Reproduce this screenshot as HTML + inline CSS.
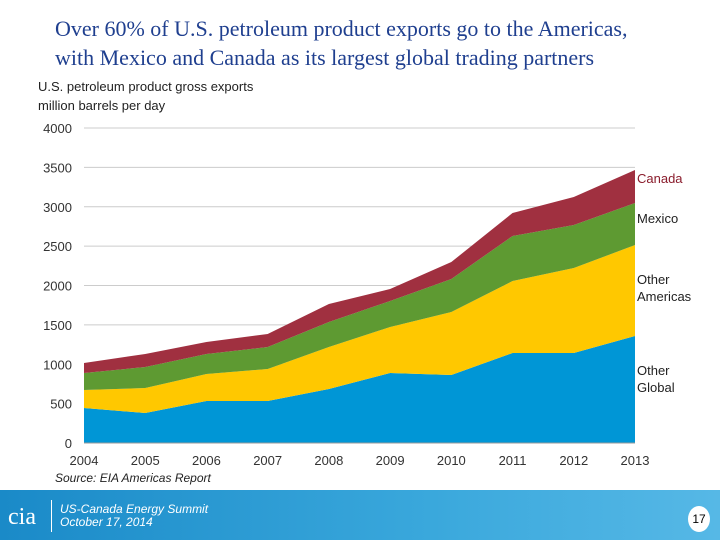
<!DOCTYPE html>
<html><head><meta charset="utf-8">
<style>
body{margin:0;width:720px;height:540px;overflow:hidden;background:#fff;font-family:"Liberation Sans",sans-serif;position:relative}
.title{position:absolute;left:55px;top:14px;font-family:"Liberation Serif",serif;font-size:22px;color:#1f3f8f;line-height:29px}
.sub{position:absolute;left:38px;top:77px;font-size:13px;color:#222;line-height:19px}
.footer{position:absolute;left:0;top:490px;width:720px;height:50px;background:linear-gradient(90deg,#1a8ac8,#3aa8dc 60%,#56b8e6)}
.ft{position:absolute;left:60px;top:13px;color:#fff;font-style:italic;font-size:12px;line-height:13px}
.logo{position:absolute;left:8px;top:14px;color:#fff;font-family:"Liberation Serif",serif;font-size:24px}
.pg{position:absolute;left:688px;top:506px;width:22px;height:26px;border-radius:50%;background:#fff;font-size:12px;text-align:center;line-height:26px;color:#000}
.src{position:absolute;left:55px;top:471px;font-size:12px;font-style:italic;color:#222}
</style></head><body>
<div class="title">Over 60% of U.S. petroleum product exports go to the Americas,<br>with Mexico and Canada as its largest global trading partners</div>
<div class="sub">U.S. petroleum product gross exports<br>million barrels per day</div>
<svg id="chart" width="720" height="540" style="position:absolute;left:0;top:0"></svg>
<div class="src">Source: EIA Americas Report</div>
<div class="footer">
<div class="logo">cia</div>
<div style="position:absolute;left:51px;top:10px;width:1px;height:32px;background:#fff"></div>
<div class="ft">US-Canada Energy Summit<br>October 17, 2014</div>
</div>
<div class="pg">17</div>
<script>
const years=[2004,2005,2006,2007,2008,2009,2010,2011,2012,2013];
const otherGlobal=[444,381,533,533,686,889,863,1143,1143,1359];
const otherAmericas=[229,317,343,407,533,584,800,914,1079,1155];
const mexico=[216,267,254,279,317,330,420,572,546,534];
const canada=[127,165,153,165,229,153,215,292,356,419];
const yTicks=[0,500,1000,1500,2000,2500,3000,3500,4000];
const series=[{n:"Other Global",v:otherGlobal,c:"#0096d6",lab:["Other","Global"],ly:370},
{n:"Other Americas",v:otherAmericas,c:"#ffc800",lab:["Other","Americas"],ly:279},
{n:"Mexico",v:mexico,c:"#5e9a32",lab:["Mexico"],ly:218},
{n:"Canada",v:canada,c:"#a03040",lab:["Canada"],ly:178,tc:"#8a1c2c"}];
const svg=document.getElementById('chart');const NS="http://www.w3.org/2000/svg";
const x=y=>84+(y-2004)*(635-84)/9;const yy=v=>443-v*315/4000;
function mk(t,a){const e=document.createElementNS(NS,t);for(const k in a)e.setAttribute(k,a[k]);svg.appendChild(e);return e;}
yTicks.forEach(t=>{if(t>0){const l=mk('line',{x1:84,x2:635,y1:yy(t),y2:yy(t),stroke:'#ccc','stroke-width':1});

}
const tx=mk('text',{x:72,y:yy(t)+5,'text-anchor':'end','font-size':13,fill:'#333'});tx.textContent=t;

});
let base=years.map(()=>0);
series.forEach(s=>{const top=base.map((b,i)=>b+s.v[i]);
let d='M'+years.map((y,i)=>x(y)+','+yy(top[i])).join(' L');
for(let i=years.length-1;i>=0;i--)d+=' L'+x(years[i])+','+yy(base[i]);
const p=mk('path',{d:d+'Z',fill:s.c});


s.lab.forEach((t,j)=>{const tx=mk('text',{x:637,y:s.ly+5+j*17,'font-size':13,fill:s.tc||'#222'});tx.textContent=t;

});
base=top;});
const ax=mk('line',{x1:84,x2:635,y1:443,y2:443,stroke:'#999'});


years.forEach(y=>{const tx=mk('text',{x:x(y),y:465,'text-anchor':'middle','font-size':13,fill:'#333'});tx.textContent=y;

});
</script>
</body></html>
